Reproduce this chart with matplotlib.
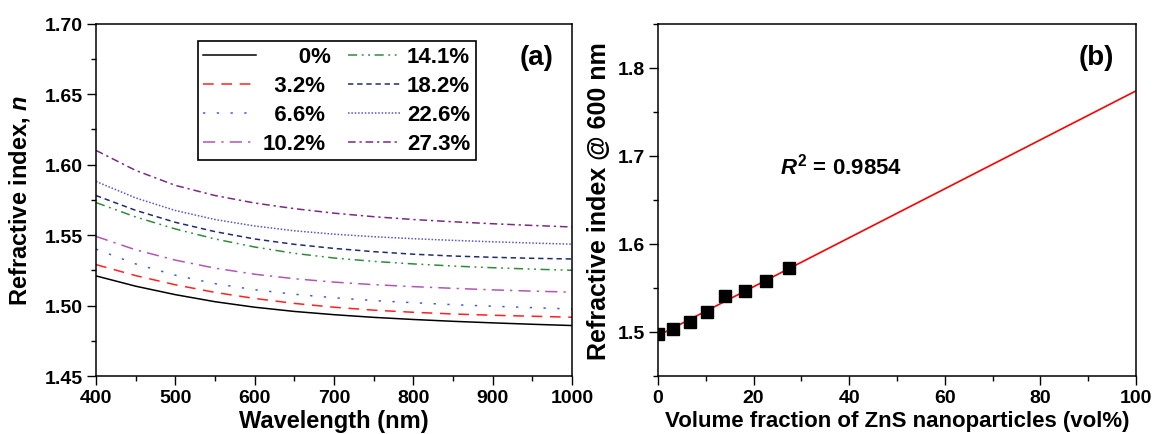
import matplotlib
matplotlib.use('Agg')
import matplotlib.pyplot as plt
from matplotlib.ticker import MultipleLocator, FormatStrFormatter

plt.rcParams['font.family'] = 'Liberation Sans'
plt.rcParams['font.weight'] = 'bold'
plt.rcParams['axes.labelweight'] = 'bold'
plt.rcParams['mathtext.fontset'] = 'custom'
plt.rcParams['mathtext.it'] = 'Liberation Sans:italic:bold'
plt.rcParams['mathtext.bf'] = 'Liberation Sans:bold'
plt.rcParams['mathtext.rm'] = 'Liberation Sans:bold'

wavelength = [400, 450, 500, 550, 600, 650, 700, 750, 800, 850, 900, 950, 1000]
n_0 = [1.521, 1.5137, 1.5077, 1.5027, 1.4988, 1.4958, 1.4935, 1.4916, 1.4901, 1.4888, 1.4877, 1.4867, 1.4858]
n_3_2 = [1.529, 1.5212, 1.5147, 1.5093, 1.505, 1.5015, 1.4988, 1.4967, 1.4952, 1.494, 1.4931, 1.4924, 1.4917]
n_6_6 = [1.540, 1.5295, 1.5215, 1.5155, 1.5112, 1.508, 1.5055, 1.5035, 1.502, 1.5006, 1.4995, 1.4985, 1.4975]
n_10_2 = [1.549, 1.5395, 1.5322, 1.5265, 1.5222, 1.519, 1.5166, 1.5148, 1.5134, 1.5122, 1.5111, 1.5102, 1.5095]
n_14_1 = [1.573, 1.5628, 1.5543, 1.5472, 1.5415, 1.537, 1.5337, 1.5313, 1.5295, 1.528, 1.5268, 1.5258, 1.525]
n_18_2 = [1.578, 1.5675, 1.559, 1.5524, 1.5472, 1.5434, 1.5405, 1.5382, 1.5364, 1.5351, 1.5342, 1.5335, 1.533]
n_22_6 = [1.588, 1.5763, 1.5674, 1.561, 1.5564, 1.553, 1.5506, 1.5488, 1.5474, 1.5462, 1.5452, 1.5443, 1.5435]
n_27_3 = [1.610, 1.5958, 1.5852, 1.578, 1.5727, 1.5687, 1.5655, 1.563, 1.561, 1.5594, 1.558, 1.5568, 1.5557]

curves = [n_0, n_3_2, n_6_6, n_10_2, n_14_1, n_18_2, n_22_6, n_27_3]
# leading spaces keep the legend labels right-aligned (digit = 2 spaces in Arial metrics)
labels = ['      0%', '  3.2%', '  6.6%', '10.2%', '14.1%', '18.2%', '22.6%', '27.3%']
colors = ['black', '#ff2020', '#3b5fd6', '#b455b4', '#2e8b3e', '#1f2d6e', '#5a55c8', '#7b2a82']
styles = ['-', (0, (7, 5)), (0, (1.5, 7.5)), (0, (8, 4, 1.5, 4)),
          (0, (6, 3, 1.2, 3, 1.2, 3)), (0, (3.5, 2.5)), (0, (1, 1.2)), (0, (5, 2.5, 1.5, 2.5))]

# (b) refractive index at 600 nm vs ZnS fraction
vol_frac = [0, 3.2, 6.6, 10.2, 14.1, 18.2, 22.6, 27.3]
n_600 = [1.498, 1.5038, 1.5112, 1.5222, 1.541, 1.547, 1.5573, 1.5725]
fit_x = [0, 100]
fit_y = [1.4958, 1.7736]

fig = plt.figure(figsize=(11.53, 4.35), dpi=100)
ax1 = fig.add_axes([0.0833, 0.1333, 0.4128, 0.8103])
ax2 = fig.add_axes([0.5707, 0.1333, 0.4146, 0.8103])

for y, lab, c, ls in zip(curves, labels, colors, styles):
    ax1.plot(wavelength, y, color=c, linestyle=ls, linewidth=1.1, label=lab)

ax1.set_xlim(400, 1000)
ax1.set_ylim(1.45, 1.70)
ax1.xaxis.set_major_locator(MultipleLocator(100))
ax1.xaxis.set_minor_locator(MultipleLocator(50))
ax1.yaxis.set_major_locator(MultipleLocator(0.05))
ax1.yaxis.set_minor_locator(MultipleLocator(0.025))
ax1.yaxis.set_major_formatter(FormatStrFormatter('%.2f'))
ax1.set_xlabel('Wavelength (nm)', fontsize=17, labelpad=2)
ax1.set_ylabel('Refractive index, $n$', fontsize=17, labelpad=9)
ax1.text(0.926, 0.905, '(a)', transform=ax1.transAxes, fontsize=20,
         ha='center', va='center')

leg = ax1.legend(ncol=2, loc='upper left', bbox_to_anchor=(0.214, 0.951),
                 borderaxespad=0, fontsize=16, handlelength=2.35,
                 handletextpad=0.3, columnspacing=0.75, labelspacing=0.36,
                 borderpad=0.25, fancybox=False, framealpha=1,
                 edgecolor='black')
leg.get_frame().set_linewidth(1.2)

ax2.plot(fit_x, fit_y, color='red', linewidth=1.2, zorder=2)
ax2.plot(vol_frac, n_600, linestyle='none', marker='s', markersize=9,
         color='black', zorder=3)
ax2.set_xlim(0, 100)
ax2.set_ylim(1.45, 1.85)
ax2.xaxis.set_major_locator(MultipleLocator(20))
ax2.xaxis.set_minor_locator(MultipleLocator(10))
ax2.yaxis.set_major_locator(MultipleLocator(0.1))
ax2.yaxis.set_minor_locator(MultipleLocator(0.05))
ax2.yaxis.set_major_formatter(FormatStrFormatter('%.1f'))
ax2.set_xlabel('Volume fraction of ZnS nanoparticles (vol%)', fontsize=16, labelpad=3)
ax2.set_ylabel('Refractive index @ 600 nm', fontsize=18, labelpad=5)
ax2.text(0.916, 0.905, '(b)', transform=ax2.transAxes, fontsize=20,
         ha='center', va='center')
ax2.text(0.255, 0.596, '$R^{2}$ = 0.9854', transform=ax2.transAxes,
         fontsize=16, ha='left', va='center')

for ax in (ax1, ax2):
    for s in ax.spines.values():
        s.set_linewidth(1.1)
    ax.tick_params(which='major', direction='out', length=6.5, width=1,
                   labelsize=14, pad=3)
    ax.tick_params(which='minor', direction='out', length=3.6, width=1)
    ax.tick_params(top=False, right=False, which='both')

fig.savefig('out.png', dpi=100)
